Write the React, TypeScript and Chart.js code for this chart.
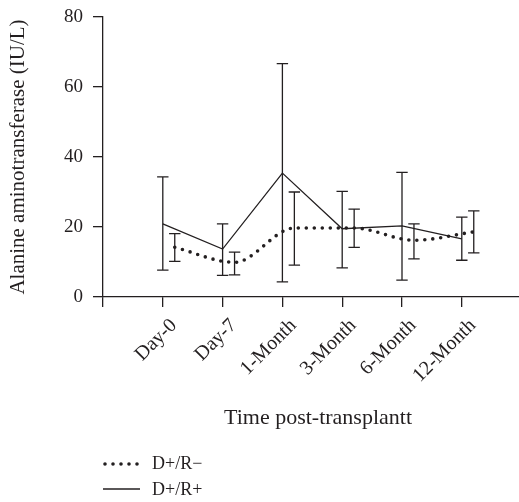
import React, { useEffect, useRef } from "react";
import { Chart, registerables } from "chart.js";

Chart.register(...registerables);

const categories = ["Day-0", "Day-7", "1-Month", "3-Month", "6-Month", "12-Month"];
const yTicks = [0, 20, 40, 60, 80];

// D+/R- (dotted)
const negMean = [14.2, 9.9, 19.7, 19.7, 16.2, 18.6];
const negLow = [10.2, 6.3, 9.1, 14.2, 10.9, 12.6];
const negHigh = [18.1, 12.8, 30.0, 25.1, 20.9, 24.6];

// D+/R+ (solid)
const posMean = [20.9, 13.7, 35.4, 19.5, 20.3, 16.6];
const posLow = [7.7, 6.2, 4.3, 8.3, 4.8, 10.5];
const posHigh = [34.3, 20.9, 66.7, 30.2, 35.6, 22.8];

const negShift = 0.2;
const INK = "#231f20";
const FONT = "'Liberation Serif', 'Times New Roman', serif";
const CANVAS_W = 533;
const CANVAS_H = 502;

const errorBarPlugin = {
  id: "errorBars",
  afterDatasetsDraw(chart: any) {
    const ctx = chart.ctx;
    const xs = chart.scales.x;
    const ys = chart.scales.y;
    const sets = [
      { shift: 0, low: posLow, high: posHigh },
      { shift: negShift, low: negLow, high: negHigh },
    ];
    ctx.save();
    ctx.strokeStyle = INK;
    ctx.lineWidth = 1.3;
    ctx.setLineDash([]);
    sets.forEach((s) => {
      s.low.forEach((lo, i) => {
        const x = xs.getPixelForValue(i + s.shift);
        const yl = ys.getPixelForValue(lo);
        const yh = ys.getPixelForValue(s.high[i]);
        const hw = 5.7;
        ctx.beginPath();
        ctx.moveTo(x, yl);
        ctx.lineTo(x, yh);
        ctx.moveTo(x - hw, yl);
        ctx.lineTo(x + hw, yl);
        ctx.moveTo(x - hw, yh);
        ctx.lineTo(x + hw, yh);
        ctx.stroke();
      });
    });
    ctx.restore();
  },
};

const legendPlugin = {
  id: "customLegend",
  afterDraw(chart: any) {
    const ctx = chart.ctx;
    ctx.save();
    ctx.strokeStyle = INK;
    ctx.fillStyle = INK;
    ctx.font = `18px ${FONT}`;
    ctx.textBaseline = "middle";
    ctx.textAlign = "left";
    // dotted
    ctx.lineWidth = 3.6;
    ctx.lineCap = "round";
    ctx.setLineDash([0, 8]);
    ctx.beginPath();
    ctx.moveTo(105, 464);
    ctx.lineTo(138, 464);
    ctx.stroke();
    ctx.fillText("D+/R\u2212", 152, 464);
    // solid
    ctx.lineWidth = 1.3;
    ctx.lineCap = "butt";
    ctx.setLineDash([]);
    ctx.beginPath();
    ctx.moveTo(103, 489);
    ctx.lineTo(140, 489);
    ctx.stroke();
    ctx.fillText("D+/R+", 152, 490);
    ctx.restore();
  },
};

export default function App() {
  const ref = useRef<HTMLCanvasElement | null>(null);
  useEffect(() => {
    document.body.style.margin = "0";
    document.body.style.overflow = "hidden";
    const canvas = ref.current;
    if (!canvas) return;
    const chart = new Chart(canvas, {
      type: "line",
      data: {
        datasets: [
          {
            label: "D+/R+",
            data: posMean.map((v, i) => ({ x: i, y: v })),
            borderColor: INK,
            borderWidth: 1.3,
            pointRadius: 0,
            tension: 0,
          },
          {
            label: "D+/R\u2212",
            data: negMean.map((v, i) => ({ x: i + negShift, y: v })),
            borderColor: INK,
            borderWidth: 3.6,
            borderDash: [0, 8],
            borderCapStyle: "round",
            pointRadius: 0,
            cubicInterpolationMode: "monotone",
          },
        ],
      },
      options: {
        animation: false,
        responsive: false,
        maintainAspectRatio: false,
        layout: { padding: { top: 17, right: 0, bottom: 70, left: 0 } },
        plugins: { legend: { display: false }, tooltip: { enabled: false } },
        scales: {
          x: {
            type: "linear",
            min: -1,
            max: -1 + (CANVAS_W - 103) / 59.8,
            afterFit(scale: any) {
              scale.height = 135;
              scale.paddingLeft = 0;
              scale.paddingRight = 0;
            },
            ticks: {
              stepSize: 1,
              includeBounds: false,
              autoSkip: false,
              maxRotation: 45,
              minRotation: 45,
              padding: 7,
              labelOffset: 11,
              color: INK,
              font: { family: FONT, size: 20 },
              callback: (v: any) => {
                const i = Math.round(Number(v));
                return categories[i] ?? "";
              },
            },
            grid: {
              drawOnChartArea: false,
              drawTicks: true,
              tickLength: 10,
              color: INK,
              lineWidth: 1.3,
            },
            border: { display: true, color: INK, width: 1.3 },
            title: {
              display: true,
              text: "Time post-transplantt",
              color: INK,
              font: { family: FONT, size: 22 },
              padding: { top: 0, bottom: 1 },
            },
          },
          y: {
            min: 0,
            max: 80,
            afterFit(scale: any) {
              scale.width = 103;
              scale.paddingTop = 0;
              scale.paddingBottom = 0;
            },
            afterBuildTicks(scale: any) {
              scale.ticks = yTicks.map((v) => ({ value: v }));
            },
            ticks: {
              padding: 10,
              color: INK,
              font: { family: FONT, size: 19 },
            },
            grid: {
              drawOnChartArea: false,
              drawTicks: true,
              tickLength: 10,
              color: INK,
              lineWidth: 1.3,
            },
            border: { display: true, color: INK, width: 1.3 },
            title: {
              display: true,
              text: "Alanine aminotransferase (IU/L)",
              color: INK,
              font: { family: FONT, size: 21 },
              padding: { top: 6, bottom: 0 },
            },
          },
        },
      },
      plugins: [errorBarPlugin, legendPlugin],
    } as any);
    return () => chart.destroy();
  }, []);
  return (
    <div style={{ width: 519, height: 502, position: "relative", overflow: "hidden" }}>
      <canvas
        ref={ref}
        width={CANVAS_W}
        height={CANVAS_H}
        style={{ width: CANVAS_W, height: CANVAS_H, display: "block" }}
      />
    </div>
  );
}
